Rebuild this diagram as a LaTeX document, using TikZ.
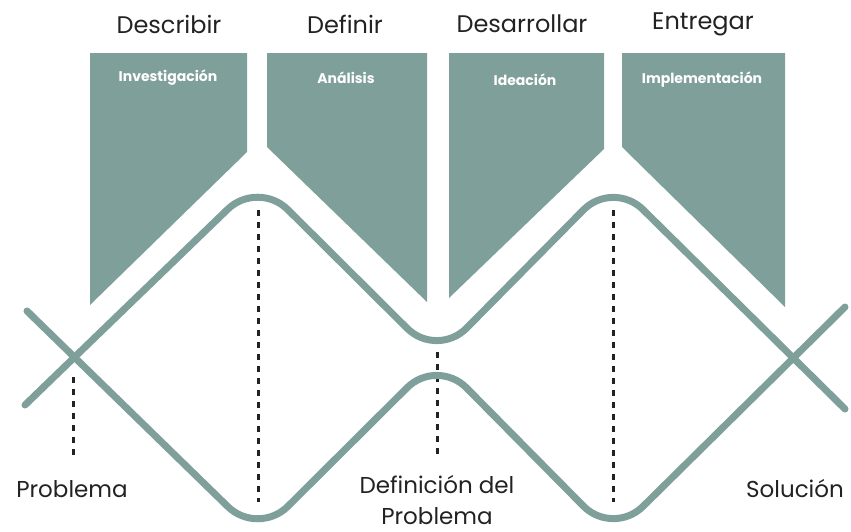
\documentclass[tikz,border=0pt]{standalone}
\usepackage{fontspec}
\setmainfont{Poppins}
\usetikzlibrary{calc}
\definecolor{sage}{RGB}{127,159,155}
\definecolor{ink}{RGB}{34,34,34}

\begin{document}
\begin{tikzpicture}[x=1pt, y=-1pt,
	banner/.style={fill=sage},
	wave/.style={draw=sage, line width=7pt, rounded corners=42pt, line cap=round},
	guide/.style={draw=ink, line width=3pt, dash pattern=on 6pt off 6pt},
	stage/.style={font=\fontsize{24}{28}\selectfont, text=ink},
	phase/.style={font=\fontsize{14}{17}\selectfont\bfseries, text=white},
	milestone/.style={font=\fontsize{23}{31}\selectfont, text=ink, align=center, inner sep=1pt}]

	% canvas
	\useasboundingbox (0,0) rectangle (851,531);

	% parameters
	\def\top{53}

	% banners
	\fill[banner] (90,\top) -- (247,\top) -- (247,152) -- (90,305) -- cycle;
	\fill[banner] (267,\top) -- (427,\top) -- (427,302) -- (267,147) -- cycle;
	\fill[banner] (449,\top) -- (604,\top) -- (604,149) -- (449,298) -- cycle;
	\fill[banner] (622,\top) -- (785,\top) -- (785,307) -- (622,147) -- cycle;

	% stage titles
	\node[stage] (describir) at (169,24) {Describir};
	\node[stage] (definir) at (345,24) {Definir};
	\node[stage] (desarrollar) at (522,24) {Desarrollar};
	\node[stage] (entregar) at (703,24) {Entregar};

	% phase labels
	\node[phase] (investigacion) at (168,78) {Investigación};
	\node[phase] (analisis) at (346,78) {Análisis};
	\node[phase] (ideacion) at (525,80) {Ideación};
	\node[phase] (implementacion) at (702,80) {Implementación};

	% guide lines
	\foreach \x/\ya/\yb [count=\i] in {73/377/455, 258/210/502, 437/352/455, 613/210/502} {
		\coordinate (G\i a) at (\x,\ya);
		\coordinate (G\i b) at (\x,\yb);
		\draw[guide] (G\i a) -- (G\i b);
	}

	% wave coordinates
	\coordinate (A0) at (27,311);
	\coordinate (A1) at (258,536);
	\coordinate (A2) at (437,358);
	\coordinate (A3) at (613,536);
	\coordinate (A4) at (845,307);

	\coordinate (B0) at (25,405);
	\coordinate (B1) at (258,180);
	\coordinate (B2) at (437,358);
	\coordinate (B3) at (613,180);
	\coordinate (B4) at (845,409);

	% waves
	\draw[wave] (A0) -- (A1) -- (A2) -- (A3) -- (A4);
	\draw[wave] (B0) -- (B1) -- (B2) -- (B3) -- (B4);

	% milestones
	\node[milestone] (problema) at (72,489) {Problema};
	\node[milestone] (definicion) at (437,500) {Definición del\\Problema};
	\node[milestone] (solucion) at (795,489) {Solución};

\end{tikzpicture}
\end{document}
